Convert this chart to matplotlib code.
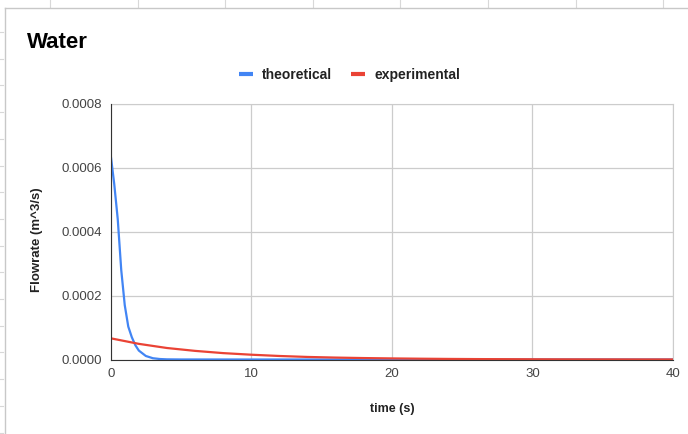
import matplotlib.pyplot as plt
import matplotlib.lines as mlines
import numpy as np

# flowrate readings, water
t_theo = [0, 0.25, 0.5, 0.75, 1.0, 1.25, 1.5, 1.75, 2.0, 2.5, 3.0, 3.5, 4.0, 5.0, 10, 20, 30, 40]
q_theo = [0.00064, 0.00055, 0.00044, 0.00028, 0.00017, 0.000103, 0.00007, 0.000045, 0.000028,
          0.000011, 0.000004, 0.0000015, 0.0000005, 0.0000001, 0, 0, 0, 0]

t_exp = [0, 2, 4, 6, 8, 10, 12, 14, 16, 18, 20, 22, 24, 26, 28, 30, 32, 34, 36, 38, 40]
q_exp = [0.0000664, 0.000049, 0.000036, 0.000027, 0.00002, 0.000015, 0.000011, 0.000008,
         0.000006, 0.0000045, 0.0000034, 0.0000025, 0.0000018, 0.0000013, 0.000001,
         0.0000007, 0.0000005, 0.0000004, 0.0000003, 0.0000002, 0.00000015]

yticks = [0, 0.0002, 0.0004, 0.0006, 0.0008]
ytick_labels = ["0.0000", "0.0002", "0.0004", "0.0006", "0.0008"]
xticks = [0, 10, 20, 30, 40]

plt.rcParams['font.family'] = ['Liberation Sans', 'DejaVu Sans']

W, H = 688, 434
fig = plt.figure(figsize=(W / 100, H / 100), dpi=100)

# sheet background: row/column marks and the chart card edge
for y in np.arange(32, 434, 26.7):
    fig.add_artist(mlines.Line2D([0, 3 / W], [1 - y / H, 1 - y / H], color="#d8d8d8", lw=0.8))
for x in np.arange(50, 688, 87.6):
    fig.add_artist(mlines.Line2D([x / W, x / W], [1, 1 - 7 / H], color="#d8d8d8", lw=0.8))
fig.add_artist(mlines.Line2D([5 / W, 5 / W], [0, 1 - 8 / H], color="#c8c8c8", lw=1))
fig.add_artist(mlines.Line2D([5 / W, 1], [1 - 8 / H, 1 - 8 / H], color="#c8c8c8", lw=1))

ax = fig.add_axes([110.7 / W, 74.5 / H, (673 - 110.7) / W, (359.5 - 104) / H])

ax.plot(t_theo, q_theo, color="#4285f4", lw=1.6, label="theoretical", zorder=3)
ax.plot(t_exp, q_exp, color="#ea4335", lw=1.6, label="experimental", zorder=4)

ax.set_xlim(0, 40)
ax.set_ylim(0, 0.0008)
ax.set_xticks(xticks)
ax.set_xticklabels([str(v) for v in xticks])
ax.set_yticks(yticks)
ax.set_yticklabels(ytick_labels)
ax.tick_params(length=0, labelsize=9.5, colors="#444444", pad=6)
ax.grid(True, color="#cccccc", lw=0.9)
ax.set_axisbelow(True)
for s in ["top", "right"]:
    ax.spines[s].set_color("#cccccc")
for s in ["left", "bottom"]:
    ax.spines[s].set_color("#333333")
    ax.spines[s].set_zorder(5)

ax.set_xlabel("time (s)", fontsize=9, fontweight="bold", color="#222222", labelpad=17)
ax.set_ylabel("Flowrate (m^3/s)", fontsize=9.5, fontweight="bold", color="#222222")
ax.yaxis.set_label_coords(-0.12, 0.47)

fig.text(27 / W, 1 - 48.3 / H, "Water", fontsize=16, fontweight="bold", color="#000000",
         va="baseline", ha="left")

leg = fig.legend(loc="center", bbox_to_anchor=(349.5 / W, 1 - 75 / H), ncol=2, frameon=False,
                 fontsize=10, handlelength=1.0, handletextpad=0.65, columnspacing=1.37)
for h in leg.get_lines():
    h.set_linewidth(3)
    h.set_solid_capstyle("butt")
for txt in leg.get_texts():
    txt.set_fontweight("bold")
    txt.set_color("#222222")

fig.savefig("out.png", dpi=100)
